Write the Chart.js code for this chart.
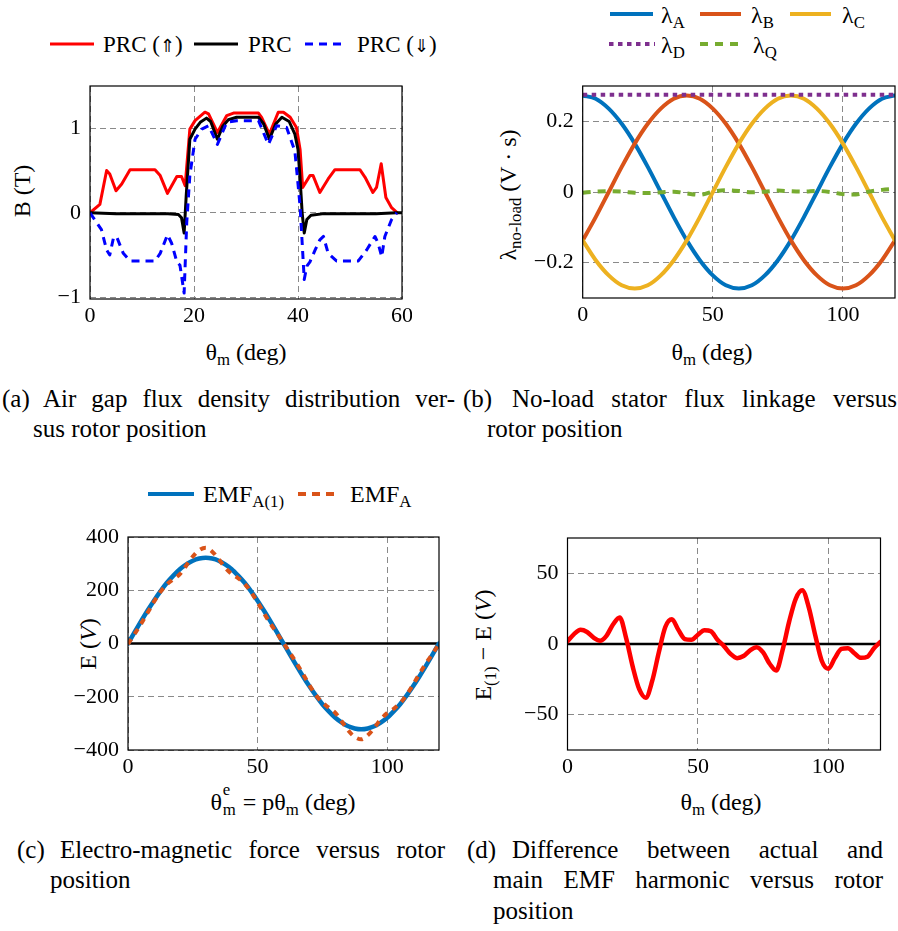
<!DOCTYPE html>
<html>
<head>
<meta charset="utf-8">
<script src="https://cdn.jsdelivr.net/npm/chart.js@4.4.1/dist/chart.umd.min.js"></script>
<style>
  html, body { margin: 0; padding: 0; background: #fff; }
  body { width: 898px; height: 931px; position: relative; overflow: hidden;
         font-family: "Liberation Serif", "DejaVu Serif", serif; color: #000; }
  canvas { position: absolute; }
  .t { position: absolute; white-space: nowrap; font-size: 24px; line-height: 1; }
  .t.s { font-size: 23px; }
  .arr { font-family: "DejaVu Sans", sans-serif; font-size: 0.8em; font-weight: 200; }
  .ylab { position: absolute; white-space: nowrap; font-size: 24px; line-height: 1;
          transform: translate(-50%, -50%) rotate(-90deg); }
  .xlab { position: absolute; white-space: nowrap; font-size: 24px; line-height: 1;
          transform: translate(-50%, -50%); }
  sub { font-size: 0.7em; vertical-align: -0.32em; line-height: 0; }
  .ssw { position: relative; display: inline-block; width: 0.62em; }
  .ssw .up { position: absolute; left: 0.05em; top: -0.5em; font-size: 0.7em; }
  .ssw .dn { position: relative; left: 0.05em; top: 0.32em; font-size: 0.7em; }
  .cap { position: absolute; font-size: 25px; line-height: 30px; text-align: justify;
         text-align-last: justify; }
  .capl { position: absolute; font-size: 25px; line-height: 30px; white-space: nowrap; }
  svg { position: absolute; overflow: visible; }
</style>
</head>
<body>

<!-- legends -->
<svg style="left:50px;top:44px" width="44" height="1"><line x1="0" y1="0" x2="44" y2="0" stroke="#ff0000" stroke-width="3"/></svg>
<div class="t s" style="left:103px;top:33px">PRC (<span class="arr">⇑</span>)</div>
<svg style="left:194px;top:44px" width="44" height="1"><line x1="0" y1="0" x2="44" y2="0" stroke="#000" stroke-width="3"/></svg>
<div class="t s" style="left:248px;top:33px">PRC</div>
<svg style="left:305px;top:44px" width="40" height="1"><line x1="0" y1="0" x2="40" y2="0" stroke="#0000ff" stroke-width="3" stroke-dasharray="8,6"/></svg>
<div class="t s" style="left:357px;top:33px">PRC (<span class="arr">⇓</span>)</div>

<svg style="left:610px;top:14px" width="43" height="1"><line x1="0" y1="0" x2="43" y2="0" stroke="#0072BD" stroke-width="4"/></svg>
<div class="t" style="left:661px;top:3px">λ<sub>A</sub></div>
<svg style="left:700px;top:14px" width="41" height="1"><line x1="0" y1="0" x2="41" y2="0" stroke="#D95319" stroke-width="4"/></svg>
<div class="t" style="left:751px;top:3px">λ<sub>B</sub></div>
<svg style="left:790px;top:14px" width="41" height="1"><line x1="0" y1="0" x2="41" y2="0" stroke="#EDB120" stroke-width="4"/></svg>
<div class="t" style="left:842px;top:3px">λ<sub>C</sub></div>
<svg style="left:609px;top:44px" width="46" height="1"><line x1="0" y1="0" x2="46" y2="0" stroke="#7E2F8E" stroke-width="4" stroke-dasharray="4.5,4.5"/></svg>
<div class="t" style="left:661px;top:33px">λ<sub>D</sub></div>
<svg style="left:700px;top:44px" width="41" height="1"><line x1="0" y1="0" x2="41" y2="0" stroke="#77AC30" stroke-width="4" stroke-dasharray="8,7"/></svg>
<div class="t" style="left:753px;top:33px">λ<sub>Q</sub></div>

<svg style="left:148px;top:494px" width="46" height="1"><line x1="0" y1="0" x2="46" y2="0" stroke="#0072BD" stroke-width="4"/></svg>
<div class="t" style="left:203px;top:482px">EMF<sub>A(1)</sub></div>
<svg style="left:298px;top:494px" width="40" height="1"><line x1="0" y1="0" x2="40" y2="0" stroke="#D95319" stroke-width="4" stroke-dasharray="8,6"/></svg>
<div class="t" style="left:350px;top:482px">EMF<sub>A</sub></div>

<!-- axis titles -->
<div class="ylab" style="left:22px;top:191px">B (T)</div>
<div class="xlab" style="left:246px;top:352px">θ<sub>m</sub> (deg)</div>
<div class="ylab" style="left:508px;top:195px">λ<sub>no-load</sub> (V · s)</div>
<div class="xlab" style="left:712px;top:352px">θ<sub>m</sub> (deg)</div>
<div class="ylab" style="left:88px;top:644px">E (<i>V</i>)</div>
<div class="xlab" style="left:283px;top:802px">θ<span class="ssw"><span class="up">e</span><span class="dn">m</span></span> = pθ<sub>m</sub> (deg)</div>
<div class="ylab" style="left:483px;top:645px">E<sub>(1)</sub> − E (<i>V</i>)</div>
<div class="xlab" style="left:721px;top:802px">θ<sub>m</sub> (deg)</div>

<!-- captions -->
<div class="capl" style="left:2px;top:384px">(a)</div>
<div class="cap" style="left:43px;top:384px;width:412px">Air gap flux density distribution ver-</div>
<div class="capl" style="left:33px;top:414px">sus rotor position</div>
<div class="capl" style="left:463px;top:384px">(b)</div>
<div class="cap" style="left:512px;top:384px;width:385px">No-load stator flux linkage versus</div>
<div class="capl" style="left:487px;top:414px">rotor position</div>
<div class="capl" style="left:17px;top:835px">(c)</div>
<div class="cap" style="left:60px;top:835px;width:385px">Electro-magnetic force versus rotor</div>
<div class="capl" style="left:50px;top:865px">position</div>
<div class="capl" style="left:467px;top:835px">(d)</div>
<div class="cap" style="left:512px;top:835px;width:371px">Difference between actual and</div>
<div class="cap" style="left:493px;top:865px;width:390px">main EMF harmonic versus rotor</div>
<div class="capl" style="left:493px;top:896px">position</div>

<canvas id="ca" width="392" height="264" style="left:20px;top:76px"></canvas>
<canvas id="cb" width="378" height="264" style="left:520px;top:76px"></canvas>
<canvas id="cc" width="409" height="263" style="left:40px;top:527px"></canvas>
<canvas id="cd" width="390" height="262" style="left:500px;top:528px"></canvas>

<script>
// (a) air gap flux density, B in tesla against rotor angle
const prcUpTheta = [0, 1.9, 3.2, 3.8, 5.0, 6.1, 7.7, 12.5, 13.5, 14.9, 16.7, 17.6, 18.3, 19.2, 20.2, 22.1, 22.8, 24.5, 26.3, 27.6, 32.4, 33.0, 34.5, 36.2, 37.2, 38.5, 39.7, 40.4, 40.9, 42.3, 42.9, 44.2, 45.8, 47.1, 51.9, 52.9, 54.4, 55.1, 56.0, 56.9, 58.0, 59.1];
const prcUpB = [0, 0.1, 0.5, 0.46, 0.26, 0.34, 0.51, 0.51, 0.44, 0.23, 0.43, 0.43, 0.32, 0.99, 1.09, 1.19, 1.17, 0.95, 1.15, 1.18, 1.18, 1.13, 0.93, 1.19, 1.19, 1.13, 1.01, 0.75, 0.3, 0.44, 0.44, 0.24, 0.40, 0.51, 0.51, 0.42, 0.24, 0.3, 0.58, 0.18, 0.06, 0];

const prcTheta = [0, 5, 10, 15, 17, 17.6, 18.1, 18.5, 19.2, 20.2, 21.2, 22.4, 23.2, 24.5, 25.5, 26.6, 28.2, 32.4, 33.4, 34.5, 35.7, 36.9, 38.3, 39.4, 40.0, 40.4, 40.8, 41.2, 41.7, 42.5, 45, 50, 55, 59, 60];
const prcB = [0, -0.01, -0.01, -0.01, -0.02, -0.06, -0.24, 0.2, 0.87, 0.99, 1.07, 1.12, 1.08, 0.87, 1.02, 1.1, 1.13, 1.13, 1.05, 0.87, 1.05, 1.13, 1.08, 0.93, 0.75, 0.4, 0.0, -0.24, -0.08, -0.03, -0.01, -0.01, -0.01, 0, 0];

const prcDownTheta = [0, 2.2, 3.2, 3.8, 4.5, 5.1, 6.4, 7.7, 12.5, 13.5, 14.9, 15.7, 16.7, 17.3, 18.1, 18.6, 19.2, 20.2, 21.5, 22.8, 24.5, 26.3, 28.2, 32.4, 34.3, 35.9, 37.8, 39.4, 40.4, 41.2, 41.7, 42.3, 43.3, 44.2, 44.9, 45.8, 47.4, 51.6, 53.2, 54.8, 55.4, 56.1, 56.7, 58.0, 59.0];
const prcDownB = [0, -0.2, -0.44, -0.5, -0.3, -0.28, -0.48, -0.57, -0.57, -0.48, -0.26, -0.36, -0.58, -0.62, -0.95, -0.12, 0.44, 0.87, 0.99, 1.03, 0.81, 1.07, 1.09, 1.09, 0.81, 1.03, 1.01, 0.73, 0.08, -0.79, -0.63, -0.58, -0.44, -0.32, -0.28, -0.48, -0.57, -0.57, -0.44, -0.28, -0.36, -0.52, -0.28, -0.08, 0];

const aTicksX = [0, 20, 40, 60];
const aTicksY = [-1, 0, 1];

// (b) no-load flux linkages, V·s
const linkTheta = [0, 5, 10, 15, 20, 25, 30, 35, 40, 45, 50, 55, 60, 65, 70, 75, 80, 85, 90, 95, 100, 105, 110, 115, 120];
const lambdaA = [0.273, 0.264, 0.236, 0.193, 0.137, 0.071, 0, -0.071, -0.137, -0.193, -0.236, -0.264, -0.273, -0.264, -0.236, -0.193, -0.137, -0.071, 0, 0.071, 0.137, 0.193, 0.236, 0.264, 0.273];
const lambdaB = [-0.137, -0.071, 0, 0.071, 0.137, 0.193, 0.236, 0.264, 0.273, 0.264, 0.236, 0.193, 0.137, 0.071, 0, -0.071, -0.137, -0.193, -0.236, -0.264, -0.273, -0.264, -0.236, -0.193, -0.137];
const lambdaC = [-0.137, -0.193, -0.236, -0.264, -0.273, -0.264, -0.236, -0.193, -0.137, -0.071, 0, 0.071, 0.137, 0.193, 0.236, 0.264, 0.273, 0.264, 0.236, 0.193, 0.137, 0.071, 0, -0.071, -0.137];
const lambdaD = [0.275, 0.275, 0.275, 0.275, 0.275, 0.275, 0.275, 0.275, 0.275, 0.275, 0.275, 0.275, 0.275, 0.275, 0.275, 0.275, 0.275, 0.275, 0.275, 0.275, 0.275, 0.275, 0.275, 0.275, 0.275];
const lambdaQ = [-0.002, 0.001, 0.002, 0.001, -0.002, -0.003, -0.001, 0.001, -0.004, -0.008, 0.001, 0.005, 0.003, -0.001, 0.001, 0.004, 0.002, 0.001, 0.003, 0, -0.006, -0.007, 0.001, 0.006, 0.009];

const bTicksX = [0, 50, 100];
const bTicksY = [-0.2, 0, 0.2];

// (c) and (d) EMF of phase A and its deviation from the fundamental
const emfTheta = [0, 2.5, 5, 7.5, 10, 12.5, 15, 17.5, 20, 22.5, 25, 27.5, 30, 32.5, 35, 37.5, 40, 42.5, 45, 47.5, 50, 52.5, 55, 57.5, 60, 62.5, 65, 67.5, 70, 72.5, 75, 77.5, 80, 82.5, 85, 87.5, 90, 92.5, 95, 97.5, 100, 102.5, 105, 107.5, 110, 112.5, 115, 117.5, 120];
const emfFund = [0, 42, 83, 123, 161, 196, 228, 255, 279, 297, 311, 319, 322, 319, 311, 297, 279, 255, 228, 196, 161, 123, 83, 42, 0, -42, -83, -123, -161, -196, -228, -255, -279, -297, -311, -319, -322, -319, -311, -297, -279, -255, -228, -196, -161, -123, -83, -42, 0];
const emfFull = [-2, 35, 73, 114.5, 156.5, 193.7, 222, 241, 260.2, 293, 327, 351, 360, 345, 317, 285, 261.5, 245, 224.5, 193, 154.5, 113.2, 74, 39, 1.5, -35, -73, -114.5, -156.5, -193.7, -222, -241, -260.2, -293, -327, -351, -360, -345, -317, -285, -261.5, -245, -224.5, -193, -154.5, -113.2, -74, -39, -1.5];
const emfDiff = [2, 7, 10, 8.5, 4.5, 2.3, 6, 14, 18.8, 4, -16, -32, -38, -26, -6, 12, 17.5, 10, 3.5, 3, 6.5, 9.8, 9, 3, -1.5, -7, -10, -8.5, -4.5, -2.3, -6, -14, -18.8, -4, 16, 32, 38, 26, 6, -12, -17.5, -10, -3.5, -3, -6.5, -9.8, -9, -3, 1.5];
const zeroTheta = [0, 120];
const zeroValue = [0, 0];

const cTicksX = [0, 50, 100];
const cTicksY = [-400, -200, 0, 200, 400];
const dTicksX = [0, 50, 100];
const dTicksY = [-50, 0, 50];

const pts = (xs, ys) => xs.map((x, i) => ({ x: x, y: ys[i] }));
const fmt = v => (v < 0 ? '\u2212' + Math.abs(v) : String(v));

// black frame around each plotting area
const framePlugin = {
  id: 'frame',
  afterDatasetsDraw(chart) {
    const a = chart.chartArea, ctx = chart.ctx;
    ctx.save();
    ctx.setLineDash([]);
    ctx.strokeStyle = '#000';
    ctx.lineWidth = 1.2;
    ctx.strokeRect(a.left, a.top, a.right - a.left, a.bottom - a.top);
    ctx.restore();
  }
};

function axis(min, max, ticks, side, size) {
  return {
    type: 'linear', min: min, max: max,
    afterBuildTicks: s => { s.ticks = ticks.map(v => ({ value: v })); },
    afterFit: s => {
      if (side === 'x') s.height = size; else s.width = size;
      // the plot area is fixed by the layout padding alone
      s.paddingTop = 0; s.paddingBottom = 0; s.paddingLeft = 0; s.paddingRight = 0;
    },
    ticks: { color: '#000', font: { family: 'Liberation Serif', size: 22 },
             padding: side === 'x' ? 4 : 9, maxRotation: 0, autoSkip: false, callback: fmt },
    grid: { color: '#8a8a8a', lineWidth: 1, drawTicks: false },
    border: { display: false, dash: [6, 4] }
  };
}

function line(data, color, width, dash, order, smooth) {
  return {
    data: data, borderColor: color, borderWidth: width, borderDash: dash || [],
    pointRadius: 0, fill: false, order: order,
    borderJoinStyle: 'round', borderCapStyle: dash ? 'butt' : 'round',
    tension: 0, cubicInterpolationMode: smooth ? 'monotone' : 'default'
  };
}

function makeChart(id, datasets, xs, ys, pad) {
  return new Chart(document.getElementById(id), {
    type: 'line',
    data: { datasets: datasets },
    options: {
      responsive: false, animation: false, devicePixelRatio: 1,
      layout: { padding: pad },
      plugins: { legend: { display: false }, tooltip: { enabled: false } },
      scales: { x: xs, y: ys }
    },
    plugins: [framePlugin]
  });
}

makeChart('ca', [
  line(pts(prcUpTheta, prcUpB), '#ff0000', 3, null, 3, false),
  line(pts(prcTheta, prcB), '#000000', 3, null, 2, false),
  line(pts(prcDownTheta, prcDownB), '#0000ff', 3, [8, 6], 1, false)
], axis(0, 60, aTicksX, 'x', 41), axis(-1.02, 1.5, aTicksY, 'y', 70),
   { top: 10, right: 10, left: 0, bottom: 0 });

makeChart('cb', [
  line(pts(linkTheta, lambdaA), '#0072BD', 4, null, 5, true),
  line(pts(linkTheta, lambdaB), '#D95319', 4, null, 4, true),
  line(pts(linkTheta, lambdaC), '#EDB120', 4, null, 3, true),
  line(pts(linkTheta, lambdaD), '#7E2F8E', 4, [4.5, 4.5], 2, false),
  line(pts(linkTheta, lambdaQ), '#77AC30', 4, [8, 7], 1, true)
], axis(0, 120, bTicksX, 'x', 42), axis(-0.3, 0.3, bTicksY, 'y', 62.7),
   { top: 10, right: 3, left: 0, bottom: 0 });

makeChart('cc', [
  line(pts(zeroTheta, zeroValue), '#000000', 2.7, null, 3, false),
  line(pts(emfTheta, emfFund), '#0072BD', 4.5, null, 2, true),
  line(pts(emfTheta, emfFull), '#D95319', 4, [6, 6], 1, true)
], axis(0, 120, cTicksX, 'x', 40), axis(-400, 400, cTicksY, 'y', 88),
   { top: 10, right: 10, left: 0, bottom: 0 });

makeChart('cd', [
  line(pts(zeroTheta, zeroValue), '#000000', 2.7, null, 2, false),
  line(pts(emfTheta, emfDiff), '#ff0000', 4.5, null, 1, true)
], axis(0, 120, dTicksX, 'x', 40), axis(-75, 75, dTicksY, 'y', 67.5),
   { top: 10, right: 9.5, left: 0, bottom: 0 });
</script>
</body>
</html>
